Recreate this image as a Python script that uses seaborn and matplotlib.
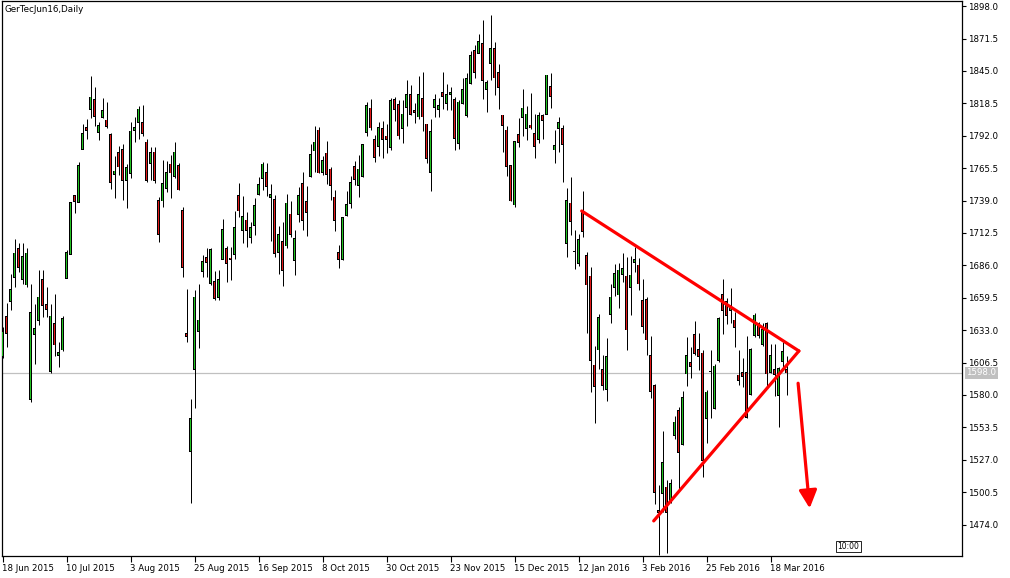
import numpy as np
import pandas as pd
import matplotlib
matplotlib.use("Agg")
import matplotlib.pyplot as plt
import matplotlib.transforms as mtransforms
import seaborn as sns

# ---------------- data (GerTecJun16, Daily) ----------------
opens = [1612.0, 1644.1, 1656.3, 1676.2, 1699.9, 1674.6, 1670.0, 1576.5, 1629.6, 1641.3,
         1674.6, 1653.6, 1599.1, 1638.6, 1612.2, 1616.8, 1675.4, 1695.1, 1742.8, 1737.6,
         1780.9, 1798.9, 1813.7, 1821.3, 1794.8, 1806.8, 1804.9, 1792.7, 1760.5, 1778.2,
         1780.9, 1755.3, 1761.3, 1796.2, 1803.0, 1803.0, 1786.7, 1769.5, 1778.5, 1738.7,
         1738.7, 1749.0, 1768.9, 1758.6, 1767.3, 1730.5, 1630.4, 1533.7, 1601.0, 1631.8,
         1680.9, 1692.6, 1671.3, 1672.7, 1659.9, 1690.9, 1699.9, 1691.8, 1695.0, 1743.0,
         1714.9, 1723.1, 1708.9, 1718.5, 1744.1, 1757.2, 1762.1, 1741.4, 1740.0, 1696.7,
         1705.4, 1702.1, 1727.8, 1689.9, 1727.8, 1753.1, 1738.1, 1759.1, 1779.8, 1796.7,
         1762.1, 1777.7, 1764.6, 1741.7, 1696.7, 1691.0, 1726.7, 1736.8, 1766.8, 1751.2,
         1759.1, 1794.8, 1814.5, 1788.6, 1783.1, 1798.1, 1791.8, 1782.3, 1821.3, 1817.2,
         1798.1, 1815.0, 1825.9, 1812.3, 1807.6, 1822.6, 1801.4, 1762.1, 1815.3, 1813.6,
         1827.5, 1818.6, 1825.9, 1821.8, 1785.8, 1818.6, 1808.5, 1834.9, 1861.4, 1859.5,
         1867.1, 1830.0, 1851.3, 1863.5, 1843.9, 1809.0, 1796.7, 1767.3, 1735.4, 1792.7,
         1807.1, 1798.1, 1800.8, 1794.0, 1789.1, 1808.2, 1809.6, 1832.2, 1780.4, 1798.1,
         1798.1, 1704.1, 1736.8, 1697.0, 1687.7, 1730.5, 1693.7, 1677.3, 1604.5, 1616.8,
         1601.0, 1584.6, 1646.2, 1668.0, 1661.8, 1678.7, 1677.3, 1668.0, 1688.5, 1686.3,
         1656.9, 1658.2, 1612.2, 1587.6, 1485.5, 1499.6, 1504.5, 1494.1, 1546.7, 1566.9,
         1539.7, 1597.2, 1606.7, 1629.6, 1616.8, 1614.1, 1560.9, 1599.0, 1569.1, 1608.6,
         1661.8, 1656.3, 1649.0, 1641.3, 1596.1, 1598.5, 1598.5, 1580.8, 1628.5, 1638.1,
         1621.7, 1638.1, 1598.5, 1601.0, 1579.5, 1607.3, 1601.0]
highs = [1636.0, 1654.9, 1679.0, 1707.6, 1704.6, 1704.6, 1700.0, 1670.8, 1654.4, 1682.2,
         1682.2, 1668.1, 1654.4, 1662.6, 1623.1, 1644.6, 1698.6, 1738.0, 1742.8, 1770.6,
         1801.7, 1805.5, 1840.9, 1831.6, 1803.3, 1822.6, 1819.4, 1794.6, 1775.8, 1783.7,
         1785.3, 1768.9, 1803.0, 1807.1, 1816.6, 1817.2, 1789.4, 1782.6, 1782.6, 1741.7,
         1772.2, 1771.4, 1776.3, 1787.2, 1769.5, 1734.0, 1666.7, 1576.7, 1665.9, 1670.8,
         1694.5, 1699.9, 1699.9, 1681.4, 1682.2, 1723.9, 1701.9, 1701.3, 1730.5, 1753.1,
         1742.8, 1729.4, 1721.8, 1740.9, 1758.0, 1770.3, 1770.0, 1752.6, 1743.6, 1718.2,
         1721.8, 1744.4, 1738.7, 1714.9, 1750.2, 1762.7, 1750.9, 1785.3, 1800.0, 1798.9,
         1775.5, 1787.8, 1766.8, 1747.7, 1702.7, 1725.9, 1746.9, 1759.1, 1771.7, 1776.3,
         1785.0, 1819.4, 1822.1, 1792.7, 1803.6, 1804.1, 1801.7, 1822.6, 1823.5, 1821.5,
         1821.3, 1837.6, 1833.6, 1818.6, 1840.9, 1843.9, 1801.4, 1805.5, 1825.9, 1822.6,
         1843.9, 1834.4, 1832.2, 1823.5, 1821.3, 1839.0, 1843.1, 1861.4, 1866.3, 1875.3,
         1886.7, 1837.6, 1890.8, 1869.0, 1850.6, 1809.0, 1800.0, 1767.3, 1788.0, 1806.3,
         1830.3, 1816.4, 1827.3, 1809.6, 1811.7, 1809.6, 1841.7, 1843.1, 1796.7, 1807.1,
         1800.8, 1749.6, 1758.0, 1714.9, 1711.7, 1746.9, 1697.2, 1684.4, 1620.1, 1646.3,
         1612.7, 1626.3, 1670.8, 1686.9, 1688.2, 1695.9, 1693.1, 1693.7, 1700.8, 1691.8,
         1674.9, 1659.9, 1628.3, 1589.0, 1506.4, 1550.5, 1510.5, 1511.0, 1562.8, 1570.5,
         1583.3, 1627.7, 1619.5, 1640.5, 1630.4, 1616.8, 1584.1, 1616.8, 1605.1, 1644.1,
         1674.6, 1659.1, 1667.2, 1648.2, 1616.8, 1610.0, 1628.3, 1618.2, 1646.8, 1639.4,
         1638.6, 1639.4, 1621.7, 1621.7, 1602.6, 1623.6, 1611.9]
lows = [1610.0, 1619.5, 1649.5, 1668.6, 1681.0, 1670.8, 1668.6, 1574.6, 1605.4, 1637.3,
        1644.1, 1644.1, 1598.3, 1612.2, 1602.6, 1616.3, 1675.4, 1695.0, 1728.6, 1737.6,
        1780.9, 1789.4, 1806.3, 1800.3, 1788.6, 1806.8, 1798.6, 1748.5, 1741.4, 1759.9,
        1739.5, 1732.7, 1757.2, 1787.2, 1789.1, 1792.1, 1754.5, 1755.8, 1753.7, 1705.4,
        1734.0, 1746.3, 1741.4, 1757.8, 1747.7, 1676.8, 1623.6, 1491.9, 1569.1, 1618.7,
        1676.2, 1676.8, 1670.0, 1657.7, 1657.7, 1690.9, 1672.7, 1674.1, 1690.9, 1725.9,
        1704.6, 1701.3, 1704.6, 1710.9, 1743.6, 1747.7, 1742.8, 1706.2, 1693.1, 1678.9,
        1669.4, 1699.9, 1709.5, 1678.1, 1721.8, 1714.9, 1710.3, 1758.0, 1762.7, 1761.3,
        1759.9, 1752.6, 1739.5, 1714.4, 1684.1, 1690.4, 1726.7, 1733.2, 1751.8, 1741.7,
        1758.6, 1792.1, 1796.7, 1770.8, 1775.8, 1774.1, 1778.2, 1780.4, 1804.4, 1789.5,
        1786.4, 1800.0, 1809.0, 1802.2, 1805.5, 1796.2, 1770.0, 1747.1, 1807.6, 1807.6,
        1813.9, 1813.1, 1813.1, 1780.4, 1780.9, 1818.0, 1807.6, 1834.4, 1839.0, 1859.5,
        1821.8, 1811.7, 1837.6, 1825.4, 1814.2, 1779.0, 1759.4, 1738.9, 1734.0, 1783.1,
        1791.8, 1788.6, 1797.6, 1774.1, 1786.4, 1789.1, 1809.6, 1814.5, 1769.5, 1779.0,
        1754.5, 1693.1, 1710.9, 1682.8, 1685.5, 1709.5, 1630.4, 1582.7, 1557.4, 1601.0,
        1584.1, 1575.4, 1638.6, 1661.3, 1650.9, 1672.7, 1616.8, 1645.4, 1680.3, 1665.9,
        1630.4, 1612.7, 1577.3, 1490.8, 1449.5, 1484.6, 1450.5, 1491.4, 1544.0, 1503.1,
        1539.1, 1587.6, 1593.6, 1612.7, 1600.2, 1513.2, 1540.5, 1560.9, 1568.2, 1607.3,
        1629.6, 1638.1, 1638.6, 1619.5, 1588.2, 1586.8, 1560.9, 1580.0, 1627.7, 1626.3,
        1620.1, 1585.5, 1597.7, 1579.2, 1553.6, 1600.4, 1580.0]
closes = [1632.0, 1630.4, 1666.4, 1695.9, 1684.4, 1693.2, 1695.9, 1647.6, 1634.5, 1659.9,
          1653.1, 1650.1, 1644.6, 1620.9, 1614.9, 1642.7, 1696.7, 1737.6, 1738.1, 1767.8,
          1793.5, 1796.2, 1823.5, 1807.7, 1800.5, 1812.3, 1799.5, 1753.7, 1763.2, 1766.7,
          1755.3, 1766.2, 1795.9, 1798.9, 1813.9, 1794.0, 1755.8, 1778.2, 1755.8, 1711.4,
          1753.1, 1762.1, 1761.8, 1778.5, 1747.7, 1684.4, 1627.7, 1560.9, 1659.9, 1641.3,
          1689.0, 1688.2, 1699.1, 1659.1, 1674.6, 1715.5, 1687.7, 1690.9, 1717.1, 1730.5,
          1725.9, 1714.9, 1717.1, 1734.8, 1751.8, 1768.9, 1750.4, 1744.1, 1695.9, 1711.4,
          1681.7, 1736.8, 1711.4, 1708.1, 1742.8, 1722.6, 1729.1, 1776.3, 1786.7, 1761.8,
          1771.4, 1760.5, 1751.2, 1722.6, 1691.0, 1725.0, 1735.9, 1753.9, 1756.4, 1764.8,
          1785.0, 1816.4, 1798.6, 1774.4, 1798.9, 1789.1, 1789.1, 1820.5, 1813.7, 1792.0,
          1809.8, 1825.9, 1809.6, 1810.9, 1825.9, 1807.6, 1773.6, 1795.4, 1821.3, 1816.6,
          1824.0, 1825.9, 1827.5, 1789.9, 1819.4, 1830.0, 1839.0, 1857.3, 1843.9, 1869.0,
          1837.1, 1835.7, 1863.5, 1839.5, 1831.5, 1800.3, 1766.8, 1738.9, 1787.2, 1786.7,
          1814.5, 1809.8, 1798.6, 1783.1, 1808.2, 1804.4, 1841.7, 1824.0, 1783.7, 1802.7,
          1785.0, 1738.7, 1721.8, 1697.0, 1706.8, 1713.6, 1670.0, 1608.6, 1586.8, 1643.0,
          1587.6, 1611.4, 1659.9, 1679.5, 1682.2, 1683.6, 1633.2, 1678.1, 1690.9, 1670.8,
          1636.4, 1625.0, 1582.7, 1500.4, 1484.0, 1524.9, 1484.0, 1507.7, 1557.7, 1533.1,
          1578.1, 1612.2, 1603.7, 1614.1, 1611.6, 1526.3, 1582.2, 1599.0, 1603.7, 1642.2,
          1649.0, 1645.4, 1652.8, 1635.3, 1591.7, 1595.5, 1561.7, 1616.8, 1645.4, 1628.5,
          1633.2, 1597.2, 1611.9, 1596.9, 1601.3, 1615.4, 1598.0]

date_labels = ["18 Jun 2015", "10 Jul 2015", "3 Aug 2015", "25 Aug 2015", "16 Sep 2015",
               "8 Oct 2015", "30 Oct 2015", "23 Nov 2015", "15 Dec 2015", "12 Jan 2016",
               "3 Feb 2016", "25 Feb 2016", "18 Mar 2016"]
label_every = 16
price_ticks = [1898.0, 1871.5, 1845.0, 1818.5, 1792.0, 1765.5, 1739.0, 1712.5, 1686.0,
               1659.5, 1633.0, 1606.5, 1580.0, 1553.5, 1527.0, 1500.5, 1474.0]
bid_price = 1598.0

# drawn trendlines (bar index, price)
upper_line_x = [144.8, 199.1]
upper_line_y = [1730.5, 1616.0]
lower_line_x = [162.8, 199.1]
lower_line_y = [1477.0, 1616.0]
arrow_from = (198.9, 1589.6)
arrow_to = (201.8, 1487.3)

title = "GerTecJun16,Daily"

# ---------------- figure ----------------
sns.set_theme(style="white")
plt.rcParams['font.family'] = ['DejaVu Sans']

W, H = 1010, 578
fig = plt.figure(figsize=(W / 100, H / 100), dpi=100)
fig.patch.set_facecolor("white")
ax_h_px = 555
ax = fig.add_axes([2 / W, 1 - 556 / H, 960 / W, ax_h_px / H])
ax.set_facecolor("white")

ymin, ymax = 1448.3, 1902.25
ppx = (ymax - ymin) / ax_h_px   # price units per pixel

df = pd.DataFrame({"open": opens, "high": highs, "low": lows, "close": closes})
df["idx"] = np.arange(len(df))
bull = (df["close"] > df["open"]).to_numpy()
bear = (df["close"] < df["open"]).to_numpy()
colors = np.array(["#22c322" if b else ("#e21a1a" if r else "black")
                   for b, r in zip(bull, bear)])

x = df["idx"].to_numpy()
body_lo = np.minimum(df["open"], df["close"]).to_numpy()
body_hi = np.maximum(df["open"], df["close"]).to_numpy()

# wicks (1 px)
ax.vlines(x, df["low"], df["high"], color="black", linewidth=0.72, zorder=2)
# black body outline: 3 px wide
ax.bar(x, (body_hi - body_lo) + ppx, bottom=body_lo - 0.5 * ppx, width=0.75,
       color="black", linewidth=0, zorder=3)
# coloured body interior
inner_h = (body_hi - body_lo) - 0.4 * ppx
m = inner_h > 0.3 * ppx
ax.bar(x[m], inner_h[m], bottom=body_lo[m] + 0.2 * ppx, width=0.42,
       color=list(colors[m]), linewidth=0, zorder=4)

# bid line
ax.axhline(bid_price, color="#c0c0c0", linewidth=0.9, zorder=1)

# trendlines
sns.lineplot(x=upper_line_x, y=upper_line_y, ax=ax, color="#ff0000", linewidth=2.3, zorder=5)
sns.lineplot(x=lower_line_x, y=lower_line_y, ax=ax, color="#ff0000", linewidth=2.3, zorder=5)
ax.annotate("", xy=arrow_to, xytext=arrow_from,
            arrowprops=dict(arrowstyle="-|>,head_length=0.9,head_width=0.45",
                            color="#ff0000", lw=2.3, shrinkA=0, shrinkB=0), zorder=6)

# bar centres fall on pixel centres
ax.set_xlim(-0.125, 239.875)
ax.set_ylim(ymin, ymax)

# axes styling
for s in ax.spines.values():
    s.set_color("black")
    s.set_linewidth(0.9)
ax.yaxis.tick_right()
ax.set_yticks(price_ticks)
ax.set_yticklabels([f"{v:.1f}" for v in price_ticks])
ax.tick_params(axis="y", which="major", right=True, left=False, direction="out",
               length=3, width=0.8, labelsize=6.2, pad=1.5, colors="black")
xt = [i * label_every for i in range(len(date_labels))]
ax.set_xticks(xt)
ax.set_xticklabels(date_labels, ha="left")
ax.tick_params(axis="x", which="major", bottom=True, direction="out",
               length=4, width=0.8, labelsize=6.2, pad=1.5, colors="black")
ax.grid(False)

# bid label box on price axis
trans = mtransforms.blended_transform_factory(ax.transAxes, ax.transData)
ax.text(1.0045, bid_price, f"{bid_price:.1f}", transform=trans, fontsize=6.2,
        color="white", va="center", ha="left",
        bbox=dict(boxstyle="square,pad=0.15", facecolor="#c0c0c0", edgecolor="none"),
        clip_on=False, zorder=10)

# title
ax.text(0.003, 0.992, title, transform=ax.transAxes, fontsize=6.3, color="black",
        va="top", ha="left")

# small time marker box near the bottom
ax.text(211.5, 1456, "10:00", fontsize=5.5, color="black", va="center", ha="center",
        bbox=dict(boxstyle="square,pad=0.15", facecolor="white", edgecolor="black", linewidth=0.6),
        zorder=7)

fig.savefig("out.png", dpi=100)
